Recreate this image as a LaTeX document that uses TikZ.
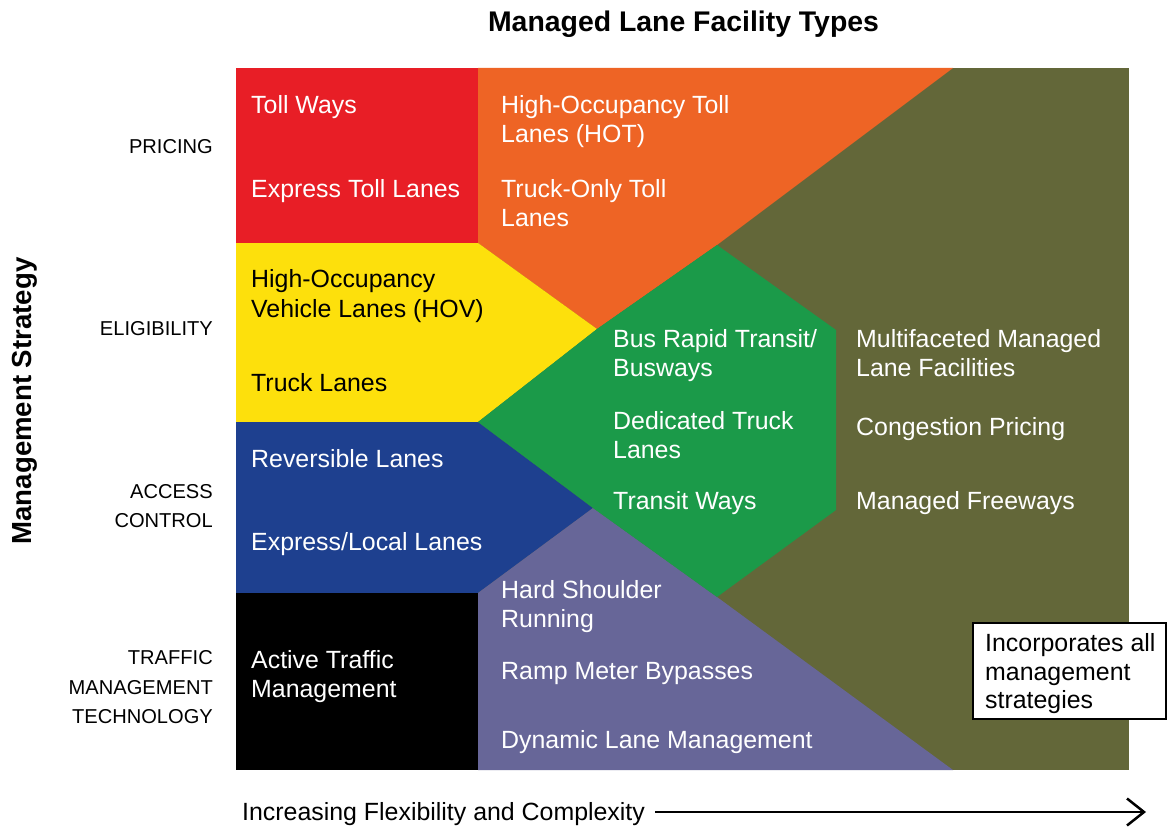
\documentclass[tikz,border=0pt]{standalone}
\usepackage{fontspec}
\setmainfont{Liberation Sans}
\usetikzlibrary{arrows.meta}
\definecolor{cred}{RGB}{232,30,38}
\definecolor{corange}{RGB}{238,100,37}
\definecolor{cyellow}{RGB}{253,224,12}
\definecolor{cblue}{RGB}{30,64,143}
\definecolor{cpurple}{RGB}{103,102,152}
\definecolor{cgreen}{RGB}{27,154,73}
\definecolor{colive}{RGB}{99,103,57}
\newcommand\cellfnt{\fontsize{24.9}{29.5}\selectfont}
\newcommand\labfnt{\fontsize{20.1}{23}\selectfont}
\newcommand\titlefnt{\fontsize{28.4}{32}\selectfont\bfseries}
\newcommand\msfnt{\fontsize{27.6}{32}\selectfont\bfseries}
\begin{document}
\begin{tikzpicture}[x=1pt,y=-1pt,
  cell/.style={anchor=base west,inner sep=0pt,text=white,font=\cellfnt},
  dcell/.style={cell,text=black},
  lab/.style={anchor=base east,inner sep=0pt,font=\labfnt},
  ]
\useasboundingbox (0,0) rectangle (1167,829);
% regions
\fill[colive] (236,68) rectangle (1129,770);
\fill[cred] (236,68) rectangle (478,243);
\fill[corange] (478,68) -- (953,68) -- (717,245) -- (597,329) -- (478,243) -- cycle;
\fill[cyellow] (236,243) -- (478,243) -- (597,329) -- (478,422) -- (236,422) -- cycle;
\fill[cblue] (236,422) -- (478,422) -- (593,508) -- (478,593) -- (236,593) -- cycle;
\fill[black] (236,593) rectangle (478,770);
\fill[cpurple] (478,593) -- (593,508) -- (717,597) -- (953,770) -- (478,770) -- cycle;
\fill[cgreen] (478,422) -- (597,329) -- (717,245) -- (836,330) -- (836,510) -- (717,597) -- (593,508) -- cycle;
% titles
\node[anchor=base,inner sep=0pt,font=\titlefnt] (title) at (683.5,32) {Managed Lane Facility Types};
\node[anchor=base,inner sep=0pt,font=\msfnt,rotate=90] (ms) at (31,401) {Management Strategy};
% left labels
\node[lab] (l1) at (213,154) {PRICING};
\node[lab] (l2) at (213,335) {ELIGIBILITY};
\node[lab] (l3a) at (213,498) {ACCESS};
\node[lab] (l3b) at (213,527) {CONTROL};
\node[lab] (l4a) at (213,664) {TRAFFIC};
\node[lab] (l4b) at (213,694) {MANAGEMENT};
\node[lab] (l4c) at (213,723) {TECHNOLOGY};
% red
\node[cell] (r1) at (251,114) {Toll Ways};
\node[cell] (r2) at (251,198) {Express Toll Lanes};
% orange
\node[cell] (o1a) at (501,114) {High-Occupancy Toll};
\node[cell] (o1b) at (501,143) {Lanes (HOT)};
\node[cell] (o2a) at (501,198) {Truck-Only Toll};
\node[cell] (o2b) at (501,226) {Lanes};
% yellow
\node[dcell] (y1a) at (251,287) {High-Occupancy};
\node[dcell] (y1b) at (251,317) {Vehicle Lanes (HOV)};
\node[dcell] (y2) at (251,391) {Truck Lanes};
% blue
\node[cell] (b1) at (251,467) {Reversible Lanes};
\node[cell] (b2) at (251,550) {Express/Local Lanes};
% black
\node[cell] (k1a) at (251,668) {Active Traffic};
\node[cell] (k1b) at (251,697) {Management};
% purple
\node[cell] (p1a) at (501,598) {Hard Shoulder};
\node[cell] (p1b) at (501,627) {Running};
\node[cell] (p2) at (501,679) {Ramp Meter Bypasses};
\node[cell] (p3) at (501,748) {Dynamic Lane Management};
% green
\node[cell] (g1a) at (613,347) {Bus Rapid Transit/};
\node[cell] (g1b) at (613,376) {Busways};
\node[cell] (g2a) at (613,429) {Dedicated Truck};
\node[cell] (g2b) at (613,458) {Lanes};
\node[cell] (g3) at (613,509) {Transit Ways};
% olive
\node[cell] (v1a) at (856,347) {Multifaceted Managed};
\node[cell] (v1b) at (856,376) {Lane Facilities};
\node[cell] (v2) at (856,435) {Congestion Pricing};
\node[cell] (v3) at (856,509) {Managed Freeways};
% note box
\draw[line width=1.5pt,fill=white] (973,623) rectangle (1166,719);
\node[dcell] (n1) at (985,651) {Incorporates all};
\node[dcell] (n2) at (985,680) {management};
\node[dcell] (n3) at (985,708) {strategies};
% bottom axis
\node[anchor=base west,inner sep=0pt,font=\fontsize{24.9}{28}\selectfont] (xl) at (242,820) {Increasing Flexibility and Complexity};
\coordinate (as) at (655,812);
\coordinate (ae) at (1146,812);
\draw[line width=2.5pt,-{Straight Barb[length=17pt,width=27pt,line width=2.5pt]}] (as) -- (ae);
\end{tikzpicture}
\end{document}
